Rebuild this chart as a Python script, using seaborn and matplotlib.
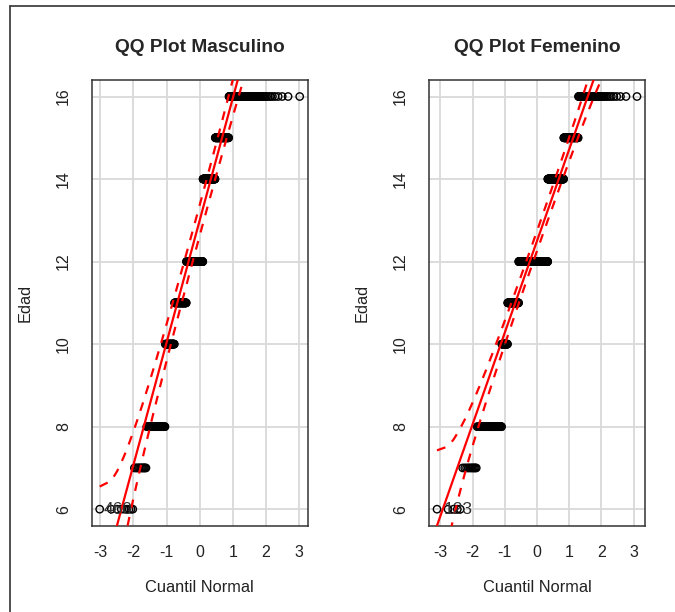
import numpy as np
import pandas as pd
import matplotlib
matplotlib.use("Agg")
import matplotlib.pyplot as plt
from matplotlib.lines import Line2D
import seaborn as sns
from statistics import NormalDist

edades = [6, 7, 8, 10, 11, 12, 14, 15, 16]
n_masculino = [9, 12, 37, 29, 47, 76, 55, 51, 74]
n_femenino = [5, 11, 55, 23, 54, 180, 86, 54, 52]

titulos = ["QQ Plot Masculino", "QQ Plot Femenino"]
etiquetas = ["460", "123"]
x_ticks = [-3, -2, -1, 0, 1, 2, 3]
y_ticks = [6, 8, 10, 12, 14, 16]

sns.set_style("white")
plt.rcParams["font.family"] = ["Liberation Sans", "DejaVu Sans"]

nd = NormalDist()


def qq_data(conteos):
    y = np.repeat(edades, conteos).astype(float)
    n = len(y)
    p = (np.arange(1, n + 1) - 0.5) / n
    z = np.array([nd.inv_cdf(v) for v in p])
    # recta por los cuartiles
    q1, q3 = np.quantile(y, [0.25, 0.75])
    z1, z3 = nd.inv_cdf(0.25), nd.inv_cdf(0.75)
    b = (q3 - q1) / (z3 - z1)
    a = q1 - b * z1
    fit = a + b * z
    dens = np.array([nd.pdf(v) for v in z])
    se = b / dens * np.sqrt(p * (1 - p) / n)
    zz = nd.inv_cdf(0.975)
    return pd.DataFrame({"z": z, "edad": y, "fit": fit,
                         "lower": fit - zz * se, "upper": fit + zz * se}), a, b


fig = plt.figure(figsize=(6.75, 6.12), dpi=100)
W, H = 675, 612
lefts = [91.7, 429]
axes = [fig.add_axes([l / W, 1 - 525.7 / H, 216 / W, 445.7 / H]) for l in lefts]

for ax, conteos, titulo, etiqueta in zip(axes, [n_masculino, n_femenino], titulos, etiquetas):
    df, a, b = qq_data(conteos)
    zr = df["z"].max() - df["z"].min()
    xlim = (df["z"].min() - 0.04 * zr, df["z"].max() + 0.04 * zr)
    yr = df["edad"].max() - df["edad"].min()
    ylim = (df["edad"].min() - 0.04 * yr, df["edad"].max() + 0.04 * yr)

    for t in x_ticks:
        ax.axvline(t, color="#d9d9d9", lw=1.3, zorder=0)
    for t in y_ticks:
        ax.axhline(t, color="#d9d9d9", lw=1.3, zorder=0)

    sns.scatterplot(data=df, x="z", y="edad", ax=ax, marker="o", s=28,
                    facecolor="none", edgecolor="black", linewidth=1.0, zorder=2)

    xs = np.array(xlim)
    ax.plot(xs, a + b * xs, color="red", lw=1.6, zorder=3)
    ax.plot(df["z"], df["upper"], color="red", lw=1.6, ls=(0, (4, 4)), zorder=3)
    ax.plot(df["z"], df["lower"], color="red", lw=1.6, ls=(0, (4, 4)), zorder=3)

    ax.text(-2.9, 6, etiqueta, fontsize=12.5, color="#333333", ha="left", va="center", zorder=4)

    ax.set_xlim(xlim)
    ax.set_ylim(ylim)
    ax.set_xticks(x_ticks)
    ax.set_yticks(y_ticks)
    ax.set_xticklabels([str(t) for t in x_ticks])
    ax.set_yticklabels([str(t) for t in y_ticks], rotation=90, va="center")
    ax.tick_params(axis="both", direction="out", length=6, width=0.8, color="#333333",
                   labelsize=11.5, labelcolor="#222222")
    ax.tick_params(axis="x", pad=8)
    ax.tick_params(axis="y", pad=9)
    for s in ax.spines.values():
        s.set_color("#333333")
        s.set_linewidth(1.1)

    ax.set_xlabel("Cuantil Normal", fontsize=11.8, color="#222222")
    ax.set_ylabel("Edad", fontsize=11.8, color="#222222")
    ax.xaxis.set_label_coords(0.5, -(588 - 525.7) / 445.7)
    ax.xaxis.label.set_va("center")
    ax.yaxis.set_label_coords((25 - 91.7) / 216, 0.5)
    ax.yaxis.label.set_va("center")
    ax.text(0.5, 1 + 32 / 445.7, titulo, transform=ax.transAxes, ha="center",
            va="center", fontsize=13.8, fontweight="bold")

# marco exterior
fig.add_artist(Line2D([10 / W, 10 / W], [0, 1 - 6 / H], transform=fig.transFigure,
                      color="#333333", lw=1.2))
fig.add_artist(Line2D([10 / W, 1], [1 - 6 / H, 1 - 6 / H], transform=fig.transFigure,
                      color="#333333", lw=1.2))

fig.savefig("out.png", dpi=100)
